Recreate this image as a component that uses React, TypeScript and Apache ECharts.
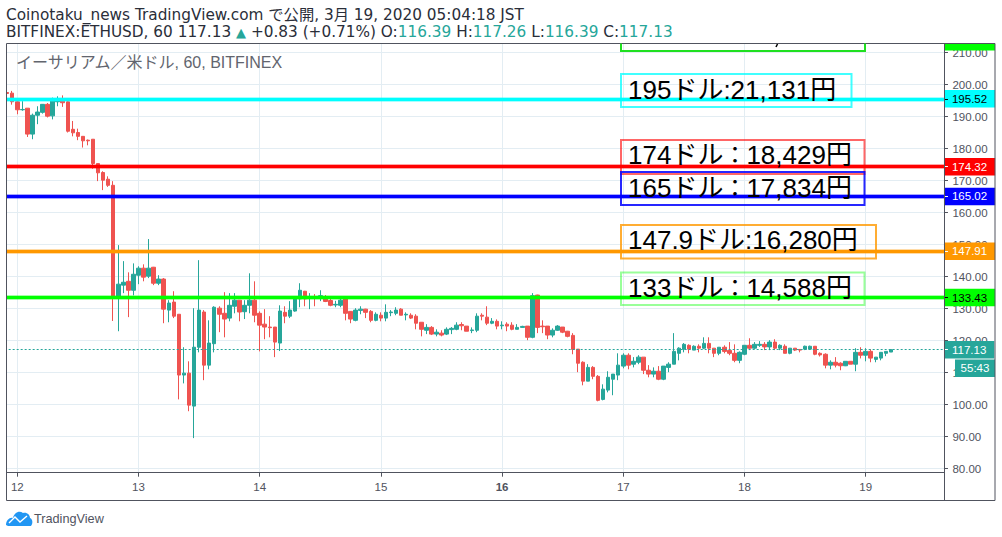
import React, { useEffect, useRef } from "react";
import * as echarts from "echarts";

const days = [12, 13, 14, 15, 16, 17, 18, 19, 20];
const priceTicksMin = 70;
const priceTicksMax = 220;

const opens = [197.5,197.3,194.6,192.1,192.6,184.5,190.4,191.3,193.8,190.2,194.6,194.8,194.6,186,185,183.8,182.6,182.9,175.3,172.5,170.4,168.5,133.5,137.3,138.5,135.7,140.4,142.6,140.1,142.9,137.9,139.2,129.5,132,128.2,109.2,109.8,99.5,117.9,128.9,112.3,119,130.1,128.5,127,130.7,132.6,129,131,132.6,128.5,125.1,124.2,124.2,119.2,128.8,127.6,129.2,133,135.4,133.4,133.5,133.8,133.4,132.5,131.1,131,133.1,129.1,126.3,129.4,129.8,129.1,126.3,127.9,127,128.7,128.5,129.8,128,127.9,127.6,125.7,123.2,124.1,122,122.3,122,123.4,123.5,125,124.5,123.1,123.2,127.9,127.3,125.4,126,124.6,125.1,124.8,123.5,124.1,124.5,121,134.2,124.5,124.5,121.7,123.2,124.2,122.9,121.6,117.3,113.2,107.3,111.6,108.8,101.6,104.5,107.9,109.2,112,115.4,112.6,113.2,114.8,110.7,109.5,110.4,107.9,111.6,112.6,116,117.3,118.5,117,118.2,117.6,119.1,117.6,116,117.9,116.9,116,113.8,115.7,118.5,117.6,118.5,118.8,118,119.5,117.6,118.2,116,117.6,117.2,117.3,117.3,118.2,116,115.7,112.3,113.2,112.9,112.1,113.5,112.6,116.3,115.4,116.6,114.1,114.5,116,116.39];
const closes = [197.2,194.6,192.1,192.2,184.5,190.4,191.4,193.8,190.1,194.8,194.8,194.3,185.4,184.9,183.8,182.4,182.4,175.3,172.4,170.1,168.5,133.8,137.6,138.2,135.7,140.7,142.6,139.8,142.6,137.9,139.2,129.8,131.7,127.6,109.2,109.8,99.8,117.9,129.5,112.3,119.2,130.4,128.2,126.7,131,132.6,128.9,131,132.6,127.9,124.8,124.2,124,119.5,129.2,127.6,129.5,133,135.7,133,133.6,133.2,134,132.2,131,131.3,132.6,128.5,126.7,129.5,129.8,128.8,126.3,128.2,127,128.8,128.9,129.5,127.9,128.2,127,125.4,123.5,124.1,122,122.6,121.7,123.5,123.8,124.8,124.6,122.9,123.3,127.6,127.6,125.4,126,124.5,124.8,124.5,123.5,124.1,124.4,121,134,124.1,124.3,121.7,123.2,124.5,122.6,121.3,117.2,112.9,107.3,111.6,108.8,101.3,104.8,108.5,109.5,112.3,115.4,112.3,113.5,114.8,110.7,109.5,110.4,107.9,112,112.6,116.6,117.6,118.8,117.3,118.2,117.6,119.1,117.6,116,117.9,116.6,116,113.8,116.3,118.5,117.6,118.8,118.8,118,119.5,117.6,118.5,116,117.6,117,117,118.2,118.2,115.7,115.5,112.3,113.2,112.3,112.1,113.5,112.6,116.3,115.4,116.6,114.5,114.8,116.3,116.6,117.13];
const lows = [196.6,193.7,190.7,191.8,183.6,182.9,187.6,190.9,189.7,189.1,193.2,193,185,183.8,182.6,180.3,181,173.7,169.8,167,168,126.1,122.9,134.8,127.3,134.1,137.6,138.5,139.5,137.3,137.3,125.4,125.7,127,101.6,106.6,97.9,89.5,116.3,107.6,111,116.3,122.6,121,126,128.5,126,126.7,128.5,125.7,116.6,120.4,121,114.8,116.7,125.4,127,129,130.4,130.7,129.8,130.7,132.3,132,130.7,130.4,130.4,126.3,125.4,126,128.2,127,125.7,126,126,126,127.6,127.9,127.9,126.3,126.7,123.5,121.3,122,121.7,121.3,121.3,121.7,122,123.2,123.2,122.9,122.3,122.6,126.3,124.8,125.1,123.5,123.5,122.9,123.2,123.5,124,120.1,120.7,122.3,122.3,120.4,121,123,122.3,121,115.7,110.1,106,107.3,107.9,101,101.3,103.8,102.9,107.6,111.3,111,111.6,112.6,109.5,108.5,108.5,107.6,107.6,110.1,112.6,113.8,116.3,116,117,116.3,117.3,116,114.8,115.4,116,115.4,113.2,112.9,115.4,117,117.3,118,117,117,117,117,116,115.7,116.7,116.3,117,117.3,115.4,115,111.3,111,111.6,110.7,112,112.6,110.4,114.4,113.5,113.2,113.2,113.8,115.1,116.39];
const highs = [197.9,198,195.1,194.8,192.6,190.9,193.2,193.9,194.2,195.9,196.3,196.6,194.8,188.6,186.2,183.9,182.8,182.9,175.3,172.9,171.3,169.8,149.8,144.8,141.3,144.1,143.2,143.8,151.7,143,140.4,139.5,132.6,135.4,128.2,117.9,113.5,130.1,145.1,129.5,126.3,130.7,130.7,135.1,134.8,134.8,132.6,132.6,141,138.5,129.1,129.8,127.6,124.2,131,130.7,132.3,133.2,137.9,135.5,134.8,134.5,135.7,134.2,133,132.4,133,133.2,129.2,130.1,130.7,129.9,129.5,128.8,128.8,131.3,129.5,130.4,130.1,128.8,128.5,128.2,125.7,125.1,124.5,123.5,123.2,124.1,124.2,125.7,125.7,124.5,124.1,128.5,128.5,130.7,127,126.6,126,125.7,125.7,125.1,124.6,124.5,134.8,134.3,126.3,124.5,123.8,124.8,124.2,123,122.3,117.3,113.5,112.6,112,109.2,106.3,110.4,109.5,116,116,116,114.8,115.4,114.8,112.3,111.6,112,112,113.2,122.3,117.9,119.2,118.8,118.5,118.8,121,121,117.6,117.9,118.5,119.5,118.8,116.6,118.5,120.7,119.5,119.8,119.5,120.1,120.4,118.8,118.8,117.6,117.6,117.3,118.4,118.4,118.2,116.3,116,113.8,114.8,113.2,113.5,113.5,117.6,117.9,117.6,117.3,114.8,116.3,116.7,117.26];

const levels = [195.52, 174.32, 165.02, 147.91, 133.43];
const levelColors = ["#00ffff", "#ff0000", "#0000ff", "#ff9800", "#00ff00"];
const levelTextColors = ["#000000", "#ffffff", "#ffffff", "#ffffff", "#000000"];
const lastPrice = 117.13;

const boxTexts = [
  "195ドル:21,131円",
  "174ドル：18,429円",
  "165ドル：17,834円",
  "147.9ドル:16,280円",
  "133ドル：14,588円",
];

const hoursPerDay = 24;
const firstDayOffset = 2;
const categoryCount = 186;

const categories: string[] = [];
for (let k = 0; k < categoryCount; k++) {
  const h = k - firstDayOffset;
  const d = days[Math.floor(h / hoursPerDay)] ?? 11;
  const hh = ((h % hoursPerDay) + hoursPerDay) % hoursPerDay;
  categories.push(`${d}|${hh}`);
}
const candles = opens.map((o, k) => [o, closes[k], lows[k], highs[k]]);

const isDayStart = (index: number) => (index - firstDayOffset) % hoursPerDay === 0 && index >= firstDayOffset;

const FONT = '"Liberation Sans", "Noto Sans CJK JP", sans-serif';
const HEAD_FONT = '"DejaVu Sans", "Noto Sans CJK JP", sans-serif';
const AXIS_COLOR = "#50535e";
const GRID_COLOR = "#e3edf3";
const UP = "#26a69a";
const DOWN = "#ef5350";
const DARK = "#2a2e39";

const box = (x: number, y: number, w: number, h: number, stroke: string) => ({
  type: "rect",
  z: 9,
  shape: { x, y, width: w, height: h },
  style: { fill: "transparent", stroke, lineWidth: 2 },
});
const boxLabel = (text: string, y: number) => ({
  type: "text",
  z: 10,
  x: 628,
  y,
  style: {
    text: text.replace("：", "{c|：}"),
    font: `26px ${FONT}`,
    fill: "#000",
    textAlign: "left",
    textVerticalAlign: "middle",
    rich: { c: { font: `23px ${FONT}`, fill: "#000" } },
  },
});
const levelTickAxis = (values: number[], color: string) => ({
  type: "value",
  position: "right",
  min: priceTicksMin,
  max: priceTicksMax,
  interval: 10,
  z: 6,
  axisLine: { show: false },
  axisTick: { show: true, length: 4, customValues: values, lineStyle: { color } },
  axisLabel: { show: false },
  splitLine: { show: false },
});

export default function App() {
  const ref = useRef<HTMLDivElement>(null);
  useEffect(() => {
    document.body.style.margin = "0";
    echarts.graphic.registerShape(
      "tvCloud",
      echarts.graphic.extendPath("M0 15C0 10 4 7 7 8C8 3 13 0 17 3C21 2 24 5 24 8C27 9 27 14 25 16L2 16Z", {}) as any
    );

    const chart = echarts.init(ref.current!, undefined, { renderer: "svg" });
    const lineData: any[] = [];
    levels.forEach((v, k) => {
      lineData.push({
        yAxis: v,
        lineStyle: { color: levelColors[k], width: 5, opacity: 0.35, type: "solid" },
        label: { show: false },
      });
      lineData.push({
        yAxis: v,
        lineStyle: { color: levelColors[k], width: 3, opacity: 1, type: "solid" },
        label: {
          show: true,
          position: "end",
          distance: 0,
          formatter: () => v.toFixed(2),
          color: levelTextColors[k],
          backgroundColor: levelColors[k],
          fontFamily: FONT,
          fontSize: 11.5,
          padding: [3, 8, 3, 8],
        },
      });
    });
    lineData.push({
      yAxis: lastPrice,
      lineStyle: { color: UP, width: 1, type: [2, 2], opacity: 1 },
      label: {
        show: true,
        position: "end",
        distance: 0,
        formatter: () => lastPrice.toFixed(2),
        color: "#ffffff",
        backgroundColor: UP,
        fontFamily: FONT,
        fontSize: 11.5,
        padding: [3, 8, 3, 8],
      },
    });

    chart.setOption({
      animation: false,
      backgroundColor: "#ffffff",
      grid: { left: 4.67, width: 939.3, top: 20.5, height: 480, containLabel: false },
      xAxis: [
        {
          type: "category",
          data: categories,
          boundaryGap: true,
          z: 0,
          axisLine: { show: false },
          axisTick: { show: false },
          axisLabel: { show: false },
          splitLine: { show: true, interval: (i: number) => isDayStart(i), alignWithLabel: true, lineStyle: { color: GRID_COLOR, width: 1 } },
        },
        {
          type: "category",
          data: categories,
          boundaryGap: true,
          position: "bottom",
          offset: -27.8,
          z: 6,
          axisLine: { show: true, onZero: false, lineStyle: { color: AXIS_COLOR, width: 1 } },
          axisTick: { show: true, alignWithLabel: true, interval: (i: number) => isDayStart(i), length: 4, lineStyle: { color: AXIS_COLOR } },
          axisLabel: {
            show: true,
            interval: (i: number) => isDayStart(i),
            margin: 9,
            color: AXIS_COLOR,
            fontFamily: FONT,
            fontSize: 11.5,
            hideOverlap: false,
            formatter: (v: string) => {
              const d = v.split("|")[0];
              return d === "16" ? `{b|${d}}` : d;
            },
            rich: { b: { fontWeight: "bold", color: AXIS_COLOR, fontFamily: FONT, fontSize: 11.5 } },
          },
          splitLine: { show: false },
        },
      ],
      yAxis: [
        {
          type: "value",
          position: "right",
          min: priceTicksMin,
          max: priceTicksMax,
          interval: 10,
          z: 0,
          axisLine: { show: false },
          axisTick: { show: false },
          axisLabel: { show: false },
          splitLine: { show: true, lineStyle: { color: GRID_COLOR, width: 1 } },
        },
        {
          type: "value",
          position: "right",
          min: priceTicksMin,
          max: priceTicksMax,
          interval: 10,
          z: 3,
          axisLine: { show: false },
          axisTick: { show: true, length: 4, lineStyle: { color: AXIS_COLOR } },
          axisLabel: {
            margin: 8.5,
            color: AXIS_COLOR,
            fontFamily: FONT,
            fontSize: 11.5,
            formatter: (v: number) => (v === priceTicksMin || v === priceTicksMax ? "" : v.toFixed(2)),
          },
          splitLine: { show: false },
        },
        levelTickAxis([levels[1], levels[2], levels[3], lastPrice], "#ffffff"),
        levelTickAxis([levels[0], levels[4]], "#000000"),
      ],
      series: [
        {
          type: "candlestick",
          xAxisIndex: 0,
          yAxisIndex: 0,
          z: 2,
          barWidth: 4,
          data: candles,
          itemStyle: { color: UP, color0: DOWN, borderColor: UP, borderColor0: DOWN, borderWidth: 1 },
          markLine: { silent: true, symbol: "none", z: 5, animation: false, data: lineData },
        },
      ],
      graphic: [
        { type: "rect", z: 4, shape: { x: 0, y: 0, width: 1002, height: 43 }, style: { fill: "#fff" } },
        { type: "rect", z: 4, shape: { x: 0, y: 473, width: 1002, height: 64 }, style: { fill: "#fff" } },
        { type: "rect", z: 7, shape: { x: 0, y: 43, width: 6.5, height: 431 }, style: { fill: "#fff" } },
        { type: "rect", z: 6, shape: { x: 944, y: 43, width: 51, height: 7.5 }, style: { fill: "#00ff00" } },
        { type: "rect", z: 8, shape: { x: 6.5, y: 43.5, width: 988.5, height: 457 }, style: { fill: "transparent", stroke: AXIS_COLOR, lineWidth: 1 } },
        { type: "line", z: 8, shape: { x1: 944.5, y1: 43.5, x2: 944.5, y2: 500.5 }, style: { stroke: AXIS_COLOR, lineWidth: 1 } },
        { type: "polyline", z: 9, shape: { points: [[621, 43.5], [621, 51], [865, 51], [865, 43.5]] }, style: { fill: "none", stroke: "#20e020", lineWidth: 2 } },
        { type: "line", z: 10, shape: { x1: 777.5, y1: 44, x2: 776, y2: 47 }, style: { stroke: "#000", lineWidth: 1.5 } },
        box(621, 74, 230.5, 33, "rgba(0,255,255,0.75)"),
        box(621, 140, 243.5, 34, "rgba(255,0,0,0.6)"),
        box(621, 172, 243.5, 33, "rgba(0,0,255,0.85)"),
        box(621, 225, 255, 33.5, "rgba(255,152,0,0.8)"),
        box(621, 272.5, 243.5, 32.5, "rgba(0,255,0,0.4)"),
        boxLabel(boxTexts[0], 89.5),
        boxLabel(boxTexts[1], 155),
        boxLabel(boxTexts[2], 187.5),
        boxLabel(boxTexts[3], 240),
        boxLabel(boxTexts[4], 287.5),
        { type: "rect", z: 6, shape: { x: 955, y: 359.5, width: 40, height: 17.5 }, style: { fill: UP } },
        { type: "text", z: 7, x: 975, y: 368.3, style: { text: "55:43", font: `11.5px ${FONT}`, fill: "#fff", textAlign: "center", textVerticalAlign: "middle" } },
        {
          type: "text", z: 9, x: 6, y: 15,
          style: { text: "Coinotaku_news TradingView.com で公開, 3月 19, 2020 05:04:18 JST", font: `15.3px ${HEAD_FONT}`, fill: DARK, textVerticalAlign: "middle" },
        },
        {
          type: "text", z: 9, x: 6, y: 32,
          style: {
            text: "BITFINEX:ETHUSD, 60 117.13 {t|▲} +0.83 (+0.71%) O:{v|116.39} H:{v|117.26} L:{v|116.39} C:{v|117.13}",
            font: `15.3px ${HEAD_FONT}`,
            fill: DARK,
            textVerticalAlign: "middle",
            rich: {
              v: { fill: UP, font: `15.3px ${HEAD_FONT}` },
              t: { fill: UP, font: `13px ${HEAD_FONT}` },
            },
          },
        },
        {
          type: "text", z: 9, x: 16, y: 62,
          style: { text: "イーサリアム／米ドル, 60, BITFINEX", font: `16px ${FONT}`, fill: "#62656e", textVerticalAlign: "middle" },
        },
        { type: "tvCloud", z: 9, x: 6, y: 510, style: { fill: "#2196f3" } },
        { type: "polyline", z: 10, shape: { points: [[9, 523], [15, 517], [20, 522], [27, 516]] }, style: { fill: "none", stroke: "#fff", lineWidth: 1.4 } },
        {
          type: "text", z: 9, x: 34, y: 519,
          style: { text: "TradingView", font: `12.7px ${FONT}`, fill: AXIS_COLOR, textVerticalAlign: "middle" },
        },
      ],
    });
    return () => chart.dispose();
  }, []);
  return <div ref={ref} style={{ width: 1002, height: 537 }} />;
}
